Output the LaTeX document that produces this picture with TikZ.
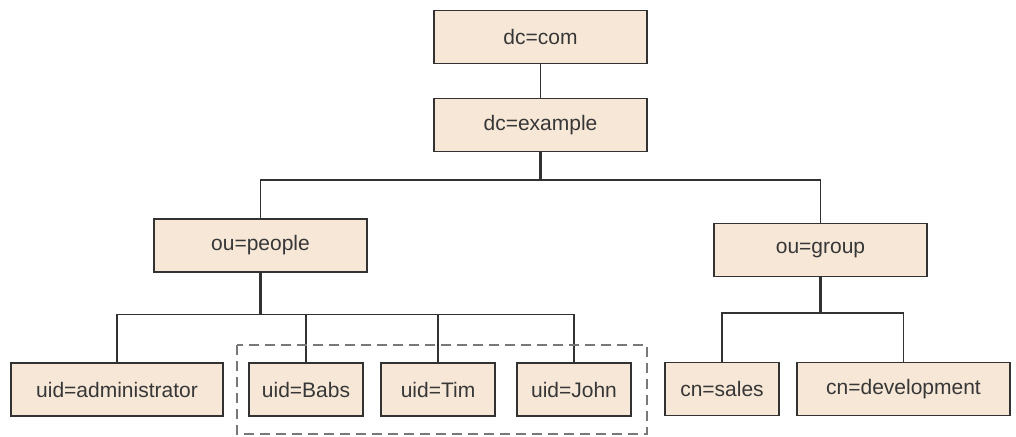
\documentclass[tikz,border=0pt]{standalone}
\usepackage{fontspec}
\setmainfont{Liberation Sans}
\usepackage{xcolor}
\usepackage{tikz}
\usetikzlibrary{positioning, calc}

\definecolor{entryfill}{RGB}{247,231,215}
\definecolor{linegray}{RGB}{50,50,50}
\definecolor{textgray}{RGB}{55,55,55}
\definecolor{groupgray}{RGB}{120,120,120}

\tikzset{
  entry/.style={draw=linegray, fill=entryfill, line width=1.5pt, minimum height=53pt,
    inner sep=0pt, text=textgray, font=\fontsize{21}{25}\selectfont},
  link/.style={draw=linegray, line width=1.6pt},
  stem/.style={draw=linegray, line width=2.4pt},
}

\begin{document}
\begin{tikzpicture}[x=1pt, y=-1pt]

\useasboundingbox (0,0) rectangle (1016,436);

% ---- Directory entries ----
\node[entry, minimum width=213pt] (com) at (540.5,37) {dc=com};
\node[entry, minimum width=213pt] (example) at (540.5,125) {dc=example};

\node[entry, minimum width=213pt, line width=2.8pt] (people) at (260.5,245.5) {ou=people};
\node[entry, minimum width=213pt] (group) at (820.5,250) {ou=group};

\node[entry, minimum width=212pt] (admin) at (117,389.5) {uid=administrator};
\node[entry, minimum width=114pt] (babs) at (306,389.5) {uid=Babs};
\node[entry, minimum width=114pt] (tim) at (438,389.5) {uid=Tim};
\node[entry, minimum width=114pt] (john) at (574,389.5) {uid=John};

\node[entry, minimum width=114pt] (sales) at (722,389) {cn=sales};
\node[entry, minimum width=213pt] (dev) at (903.5,389) {cn=development};

% ---- Tree connectors ----
\draw[link] (com) -- (example);

\draw[stem] (example.south) -- ++(0,28) coordinate (topbar);
\draw[link] (people.north) |- (topbar) -| (group.north);

\draw[stem] (people.south) -- ++(0,41) coordinate (peoplebar);
\draw[link] (admin.north) |- (peoplebar) -| (john.north);
\draw[link] (babs.north) -- (babs.north |- peoplebar);
\draw[link] (tim.north) -- (tim.north |- peoplebar);

\draw[stem] (group.south) -- ++(0,36) coordinate (groupbar);
\draw[link] (sales.north) |- (groupbar) -| (dev.north);

% ---- Grouped users ----
\draw[groupgray, line width=2.5pt, dash pattern=on 10pt off 6pt] (237,345) rectangle (647,434);

\end{tikzpicture}
\end{document}
